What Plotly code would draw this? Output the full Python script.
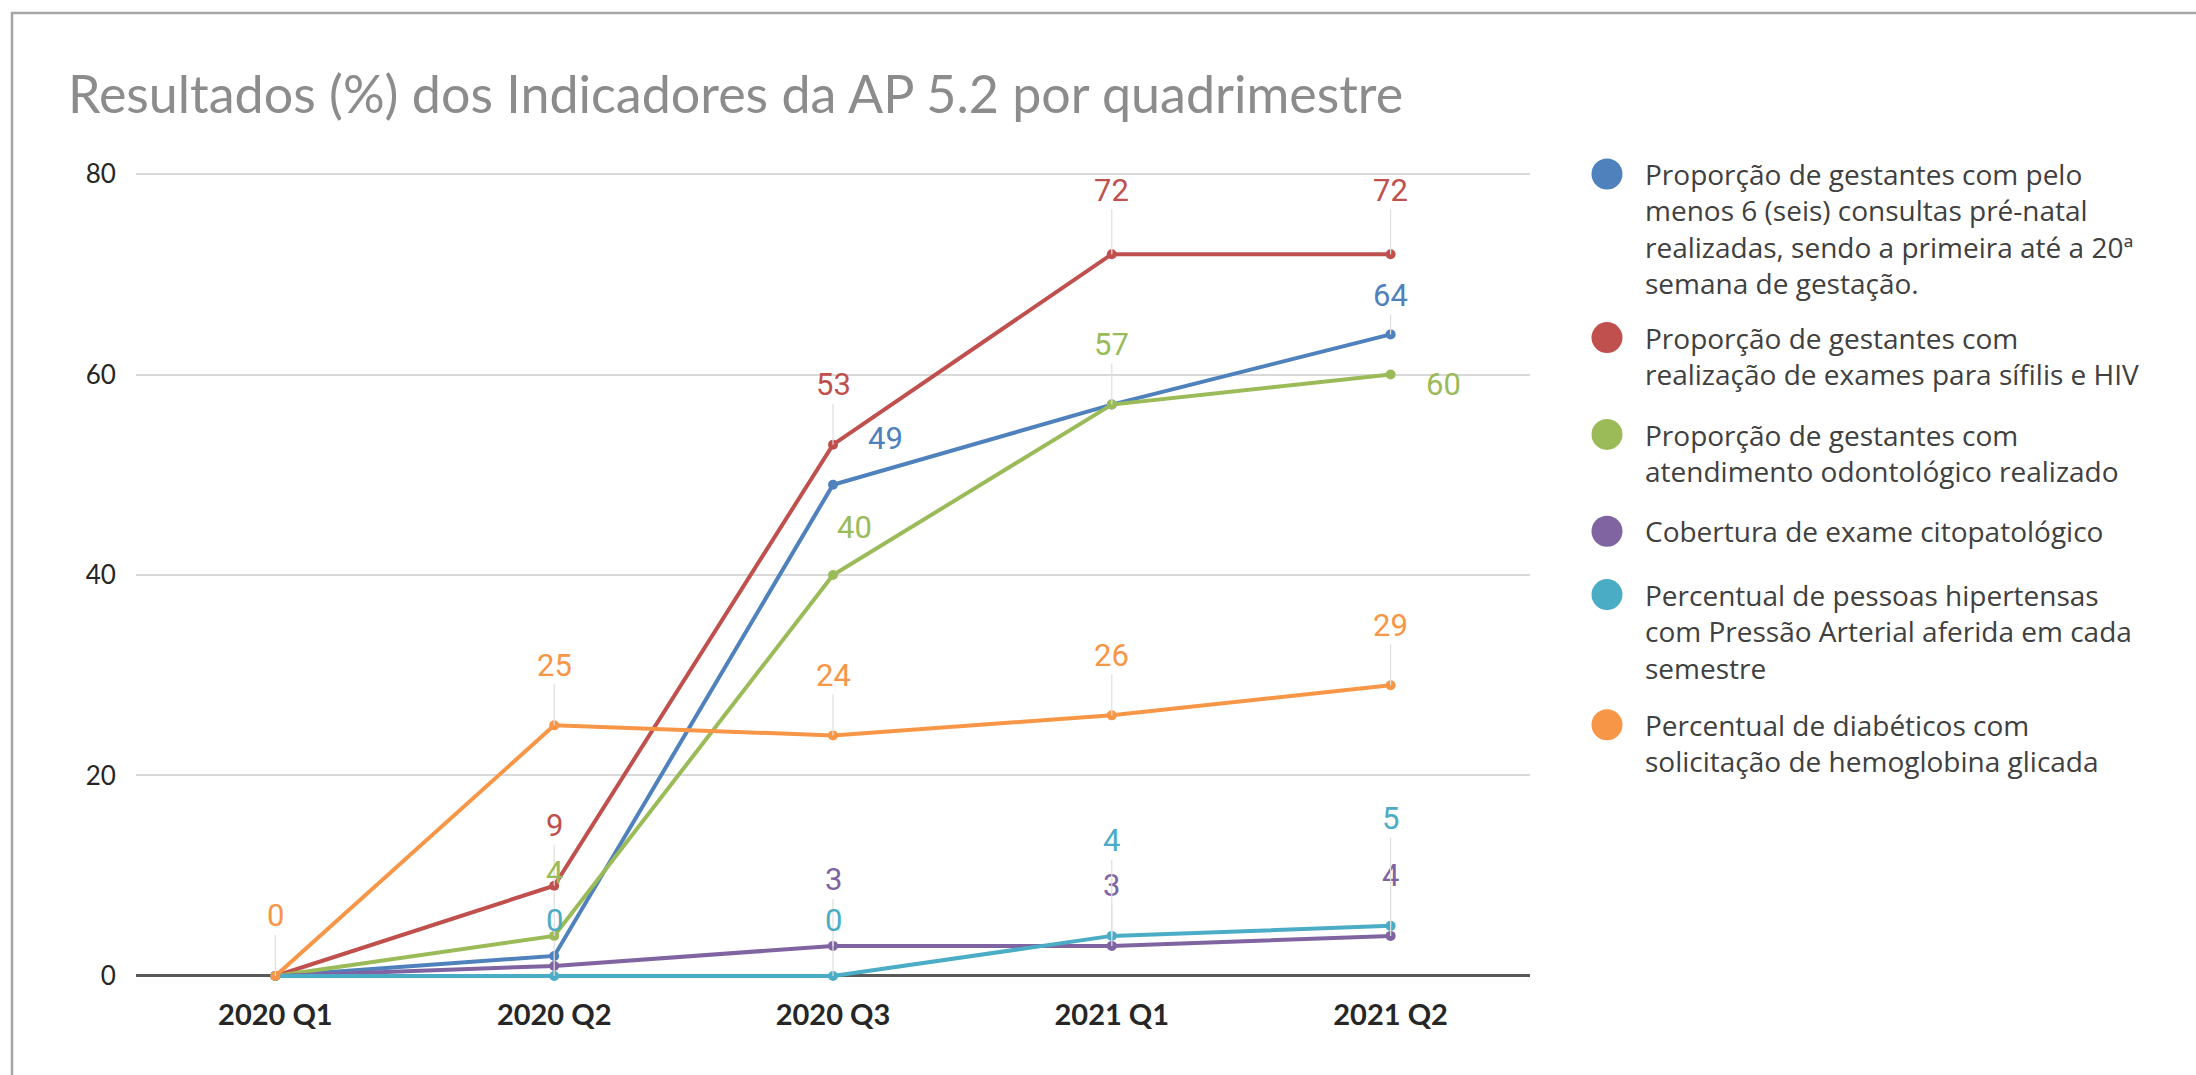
"""
Resultados (%) dos Indicadores da AP 5.2 por quadrimestre
Line chart with data labels and a legend on the right side.
"""
import plotly.graph_objects as go

# Data
quarters = ['2020 Q1', '2020 Q2', '2020 Q3', '2021 Q1', '2021 Q2']

prenatal = [0, 2, 49, 57, 64]
sifilis_hiv = [0, 9, 53, 72, 72]
odonto = [0, 4, 40, 57, 60]
citopato = [0, 1, 3, 3, 4]
hipertensos = [0, 0, 0, 4, 5]
diabeticos = [0, 25, 24, 26, 29]

names = [
    'Proporção de gestantes com pelo<br>menos 6 (seis) consultas pré-natal<br>'
    'realizadas, sendo a primeira até a 20ª<br>semana de gestação.',
    'Proporção de gestantes com<br>realização de exames para sífilis e HIV',
    'Proporção de gestantes com<br>atendimento odontológico realizado',
    'Cobertura de exame citopatológico',
    'Percentual de pessoas hipertensas<br>com Pressão Arterial aferida em cada<br>semestre',
    'Percentual de diabéticos com<br>solicitação de hemoglobina glicada',
]
series = [prenatal, sifilis_hiv, odonto, citopato, hipertensos, diabeticos]
colors = ['#4F81BD', '#C0504D', '#9BBB59', '#8064A2', '#4BACC6', '#F79646']

# Label placement (pixel offsets of the label from its point), and hidden labels
default_offset = (0, -60)
label_offsets = {
    (0, 2): (52, -46), (0, 4): (0, -39),
    (1, 3): (0, -64), (1, 4): (0, -64),
    (2, 1): (0, -63), (4, 1): (0, -55),
    (2, 2): (21, -48), (2, 4): (53, 10),
    (3, 2): (0, -66), (4, 2): (0, -55),
    (4, 3): (0, -95), (4, 4): (0, -107),
}
no_leader = {(0, 2), (2, 2), (2, 4)}
hidden_labels = {(0, 0), (1, 0), (2, 0), (3, 0), (4, 0),
                 (0, 1), (3, 1), (0, 3)}

# Page geometry (pixels)
W, H = 2196, 1075
L, R, T, B = 136, 666, 172, 94
plot_w = W - L - R
plot_h = H - T - B


def px_x(x):
    return (x - L) / plot_w


def px_y(y):
    return (H - B - y) / plot_h


fig = go.Figure()

for vals, name, color in zip(series, names, colors):
    fig.add_trace(go.Scatter(
        x=quarters, y=vals, name=name.replace('<br>', ' '),
        mode='lines+markers',
        line=dict(color=color, width=4),
        marker=dict(color=color, size=10, line=dict(width=0)),
        cliponaxis=False,
        showlegend=False,
    ))

# Data labels with leader lines
for s, (vals, color) in enumerate(zip(series, colors)):
    for i, v in enumerate(vals):
        if (s, i) in hidden_labels:
            continue
        dx, dy = label_offsets.get((s, i), default_offset)
        fig.add_annotation(
            x=quarters[i], y=v, text=str(v),
            showarrow=True, arrowhead=0, arrowwidth=1.2,
            arrowcolor='rgba(0,0,0,0)' if (s, i) in no_leader else '#dedede',
            ax=dx, ay=dy, borderpad=0,
            font=dict(family='Roboto', size=31, color=color),
        )

# Legend drawn on the right: big dots with wrapped text
leg_font = 28
text_line_h = 1.3 * leg_font
y_item = 174
for name, color in zip(names, colors):
    n_lines = name.count('<br>') + 1
    fig.add_shape(
        type='circle', xref='paper', yref='paper',
        xsizemode='pixel', ysizemode='pixel',
        xanchor=px_x(1607), yanchor=px_y(y_item),
        x0=-15.5, x1=15.5, y0=-15.5, y1=15.5,
        fillcolor=color, line=dict(width=0),
    )
    fig.add_annotation(
        xref='paper', yref='paper',
        x=px_x(1643), y=px_y(y_item + (n_lines - 1) * text_line_h / 2),
        xanchor='left', yanchor='middle', align='left',
        text=name, showarrow=False,
        font=dict(family='Open Sans', size=leg_font, color='#404040'),
    )
    y_item += n_lines * 33.4 + 30

# Outer chart frame
fig.add_shape(
    type='rect', xref='paper', yref='paper',
    x0=px_x(12), x1=px_x(2210), y0=px_y(1090), y1=px_y(13),
    line=dict(color='#a6a6a6', width=2.5), fillcolor='rgba(0,0,0,0)',
    layer='below',
)

fig.update_layout(
    width=W, height=H,
    margin=dict(l=L, r=R, t=T, b=B),
    paper_bgcolor='white', plot_bgcolor='white',
    title=dict(
        text='Resultados (%) dos Indicadores da AP 5.2 por quadrimestre',
        x=68 / W, xanchor='left', y=1 - 95 / H, yanchor='middle',
        font=dict(family='Lato', size=52, color='#8c8c8c'),
    ),
    showlegend=False,
)

fig.update_xaxes(
    range=[-0.5, 4.5], showgrid=False, showline=False, zeroline=False,
    ticks='outside', ticklen=8, tickcolor='rgba(0,0,0,0)',
    tickfont=dict(family='Lato', size=29, color='#262626', weight='bold'),
)
fig.update_yaxes(
    range=[-0.5, 80.2], tickvals=[0, 20, 40, 60, 80],
    showgrid=True, gridcolor='#d9d9d9', gridwidth=2,
    zeroline=True, zerolinecolor='#595959', zerolinewidth=3,
    showline=False,
    ticks='outside', ticklen=14, tickcolor='rgba(0,0,0,0)',
    tickfont=dict(family='Lato', size=26, color='#262626'),
)

# remove the default page margin so the figure sits at the window corner
fig.write_html('out.html', config={'displayModeBar': False},
               post_script="document.body.style.margin='0';")
